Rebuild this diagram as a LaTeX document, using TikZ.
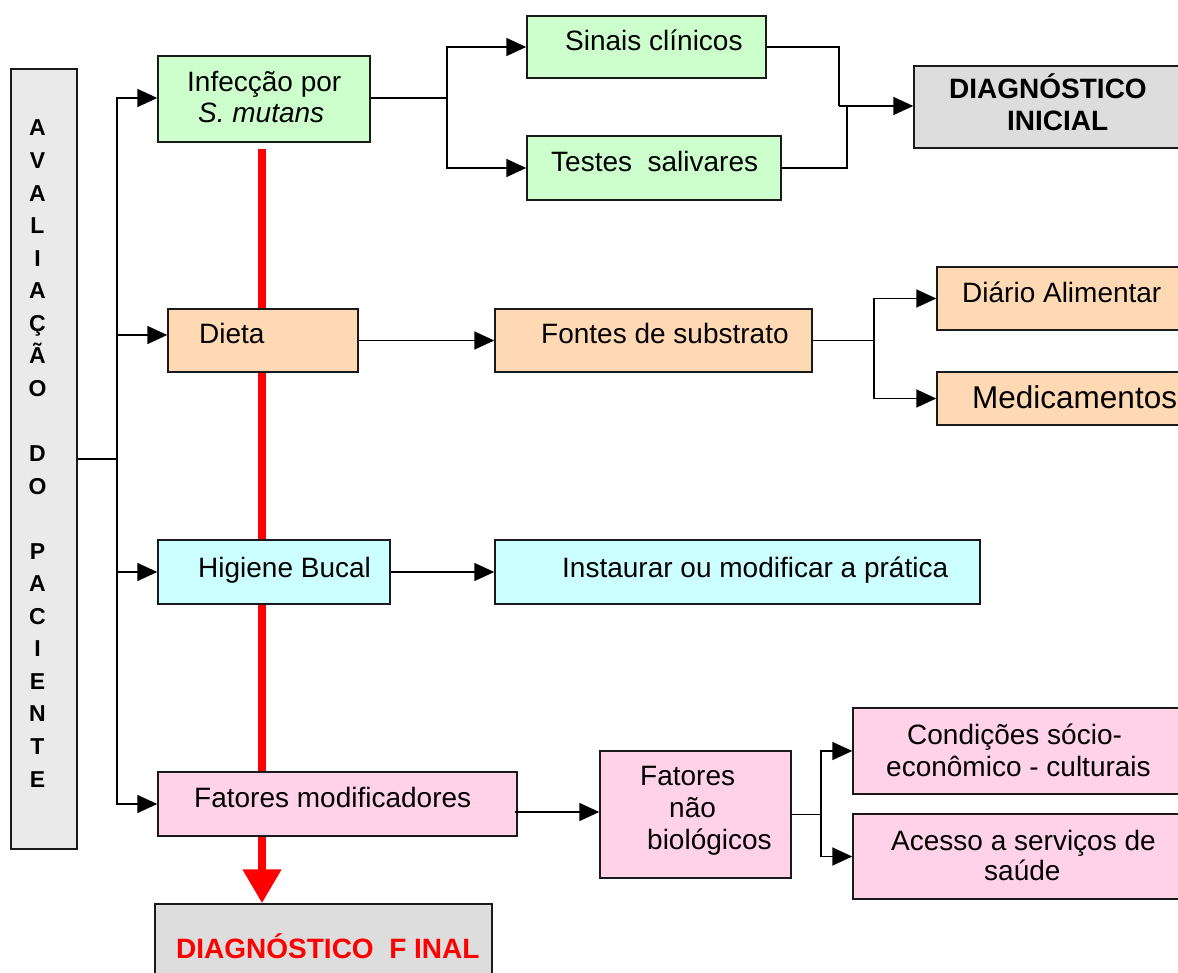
\documentclass[tikz,border=0pt]{standalone}
\usepackage{fontspec}
\setmainfont{Liberation Sans}
\usetikzlibrary{arrows.meta}
\definecolor{cgreen}{HTML}{CCFFCC}
\definecolor{cpeach}{HTML}{FFD9B3}
\definecolor{ccyan}{HTML}{CCFFFF}
\definecolor{cpink}{HTML}{FFD2E8}
\definecolor{cgray}{HTML}{DDDDDD}
\definecolor{clgray}{HTML}{EAEAEA}
\definecolor{cred}{HTML}{FF0000}
\definecolor{cline}{HTML}{1A1A1A}
\begin{document}
\begin{tikzpicture}[x=1pt,y=-1pt,
  box/.style={draw=cline, line width=1.5pt, inner sep=0pt},
  txt/.style={anchor=base west, inner sep=0pt, font=\fontsize{28}{31}\selectfont},
  btxt/.style={txt, font=\fontsize{28}{31}\selectfont\bfseries},
  letter/.style={anchor=base, inner sep=0pt, font=\fontsize{23}{25}\selectfont\bfseries},
  conn/.style={draw=black, line width=1.8pt},
  arr/.style={conn, -{Triangle[length=20pt,width=18pt]}},
  redarr/.style={draw=cred, line width=8pt, -{Triangle[length=34pt,width=37pt]}}
]
\clip (0,0) rectangle (1178,973);
\fill[white] (0,0) rectangle (1178,973);

% red main arrow (behind the boxes)
\coordinate (rs) at (262,149);

% boxes
\node[box, fill=clgray, minimum width=66pt, minimum height=780pt] (avp) at (44,459) {};
\node[box, fill=cgreen, minimum width=212pt, minimum height=86pt] (infec) at (264,99) {};
\node[box, fill=cgreen, minimum width=239pt, minimum height=62pt] (sinais) at (646.5,47) {};
\node[box, fill=cgreen, minimum width=254pt, minimum height=64pt] (testes) at (654,168) {};
\node[box, fill=cgray, minimum width=276pt, minimum height=82pt] (dinic) at (1052,107) {};
\node[box, fill=cgray, minimum width=337pt, minimum height=91pt] (dfinal) at (323.5,949.5) {};

\draw[redarr] (rs) -- (rs |- dfinal.north);

\node[box, fill=cpeach, minimum width=190pt, minimum height=63pt] (dieta) at (263,340.5) {};
\node[box, fill=cpeach, minimum width=317pt, minimum height=63pt] (fontes) at (653.5,340.5) {};
\node[box, fill=cpeach, minimum width=253pt, minimum height=63pt] (diario) at (1063.5,298.5) {};
\node[box, fill=cpeach, minimum width=253pt, minimum height=53pt] (medic) at (1063.5,398.5) {};
\node[box, fill=ccyan, minimum width=232pt, minimum height=64pt] (higiene) at (274,572) {};
\node[box, fill=ccyan, minimum width=485pt, minimum height=64pt] (instaurar) at (737.5,572) {};
\node[box, fill=cpink, minimum width=359pt, minimum height=64pt] (fatmod) at (337.5,804) {};
\node[box, fill=cpink, minimum width=191pt, minimum height=127pt] (fnb) at (695.5,814.5) {};
\node[box, fill=cpink, minimum width=337pt, minimum height=86pt] (cond) at (1021.5,751) {};
\node[box, fill=cpink, minimum width=337pt, minimum height=85pt] (acesso) at (1021.5,856.5) {};

% vertical title
\foreach \i/\l in {0/A,1/V,2/A,3/L,4/I,5/A,6/Ç,7/Ã,8/O,10/D,11/O,13/P,14/A,15/C,16/I,17/E,18/N,19/T,20/E}
  \node[letter] (let\i) at (37.5,{136+32.55*\i}) {\l};

% texts
\node[txt] (t-infec1) at (187,92) {Infecção por};
\node[txt] (t-infec2) at (198,123) {\itshape S. mutans};
\node[txt] (t-sinais) at (565,51) {Sinais clínicos};
\node[txt] (t-testes) at (551,172) {Testes\ \ salivares};
\node[btxt] (t-dinic1) at (949,99) {DIAGNÓSTICO};
\node[btxt] (t-dinic2) at (1007,131) {INICIAL};
\node[txt] (t-dieta) at (199,344) {Dieta};
\node[txt] (t-fontes) at (541,344) {Fontes de substrato};
\node[txt] (t-diario) at (962,303) {Diário Alimentar};
\node[txt, font=\fontsize{31.5}{34}\selectfont] (t-medic) at (972,409) {Medicamentos};
\node[txt] (t-higiene) at (198,577) {Higiene Bucal};
\node[txt] (t-instaurar) at (562,577) {Instaurar ou modificar a prática};
\node[txt] (t-fatmod) at (194,807) {Fatores modificadores};
\node[txt] (t-fnb1) at (640,785) {Fatores};
\node[txt] (t-fnb2) at (669,817) {não};
\node[txt] (t-fnb3) at (647,849) {biológicos};
\node[txt] (t-cond1) at (907,744) {Condições sócio-};
\node[txt] (t-cond2) at (886,776) {econômico - culturais};
\node[txt] (t-acesso1) at (891,850) {Acesso a serviços de};
\node[txt] (t-acesso2) at (984,880) {saúde};
\node[btxt, text=cred] (t-dfinal) at (176,958) {DIAGNÓSTICO\ \ F INAL};

% connectors
\coordinate (trunk) at (117,459);
\draw[conn] (avp.east) -- (trunk);
\draw[conn] (trunk) -- (trunk |- infec.west);
\draw[conn] (trunk) -- (trunk |- fatmod.west);
\draw[arr] (trunk) |- ([yshift=1pt]infec.west);
\draw[arr] (trunk) |- ([yshift=5.5pt]dieta.west);
\draw[arr] (trunk) |- (higiene.west);
\draw[arr] (trunk) |- (fatmod.west);

\coordinate (b1) at (447,98);
\draw[conn] ([yshift=1pt]infec.east) -- (b1);
\draw[arr] (b1) |- (sinais.west);
\draw[arr] (b1) |- (testes.west);

\coordinate (b2) at (839,106);
\coordinate (b3) at (847,106);
\draw[conn] (sinais.east) -| (b2);
\draw[conn] (testes.east) -| (b3);
\draw[arr] (b2) -- (b2 -| dinic.west);

\draw[arr] (dieta) -- (fontes);
\coordinate (b4) at (874,340.5);
\draw[conn] (fontes.east) -- (b4);
\draw[arr] (b4) |- (diario.west);
\draw[arr] (b4) |- (medic.west);

\draw[arr] (higiene) -- (instaurar);

\draw[arr] ([xshift=-3pt,yshift=-8pt]fatmod.east) -- ([yshift=-8pt]fatmod.east -| fnb.west);
\coordinate (b5) at (821,814.5);
\draw[conn] (fnb.east) -- (b5);
\draw[arr] (b5) |- (cond.west);
\draw[arr] (b5) |- (acesso.west);
\end{tikzpicture}
\end{document}
